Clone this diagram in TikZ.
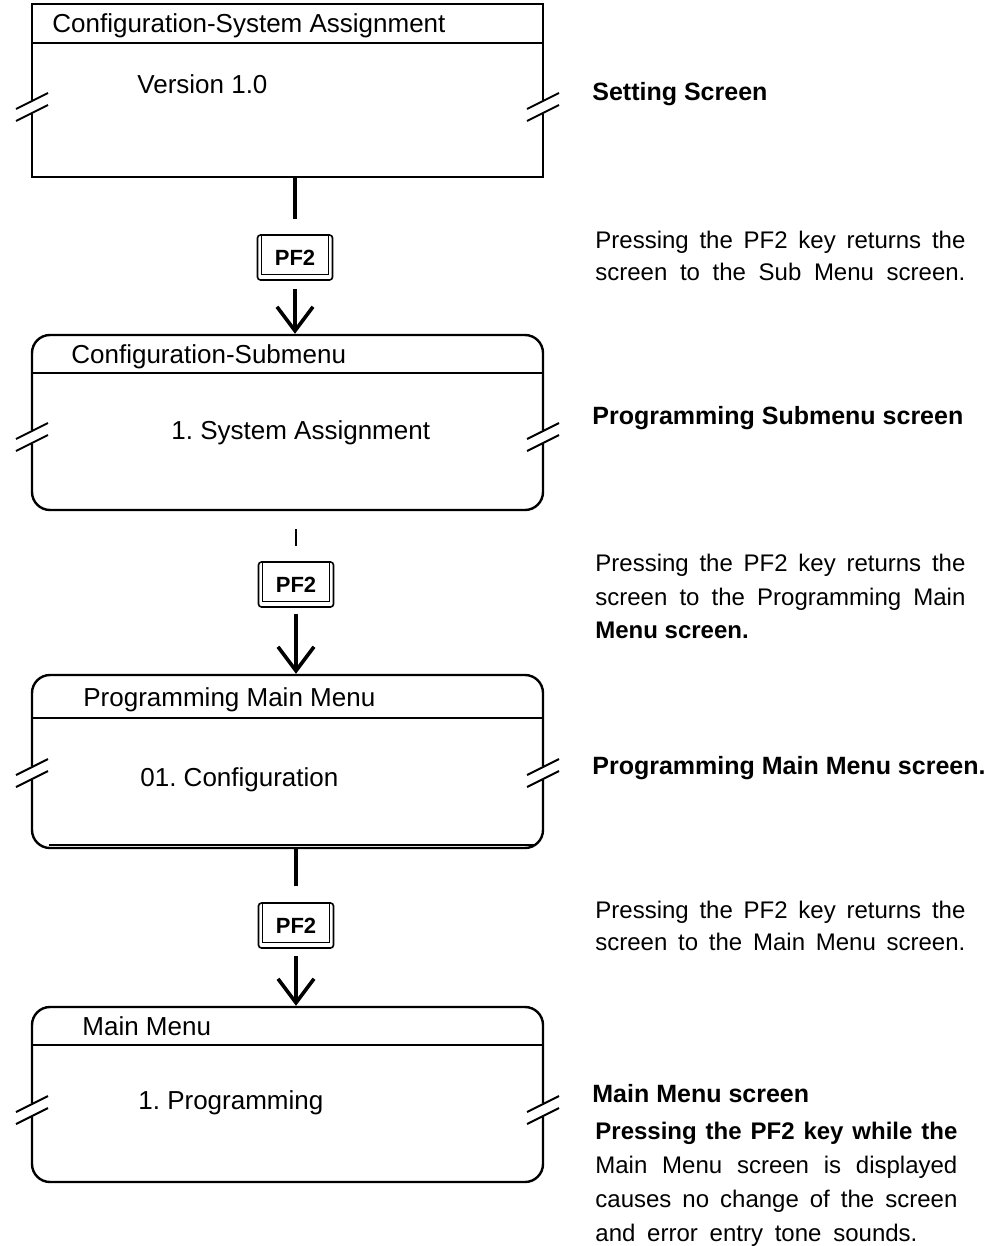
\documentclass[tikz,border=0pt]{standalone}
\usepackage{fontspec}
\setmainfont{Liberation Sans}
\usepackage{tikz}
\usetikzlibrary{arrows.meta}
\frenchspacing
\tikzstyle{screenbox}   = [rectangle, draw=black, line width=1.2pt, minimum width=255.5pt, inner sep=0pt]
\tikzstyle{roundscreen} = [screenbox, rounded corners=9pt]
\tikzstyle{pfkey}       = [rectangle, draw=black, line width=0.8pt, rounded corners=1.5pt, minimum width=37.5pt, minimum height=22.5pt, inner sep=0pt, font=\fontsize{11}{13}\selectfont\bfseries]
\tikzstyle{scrtitle}    = [anchor=base west, inner sep=0pt, font=\fontsize{13}{15}\selectfont]
\tikzstyle{scritem}     = [scrtitle]
\tikzstyle{heading}     = [anchor=base west, inner sep=0pt, font=\fontsize{12.5}{15}\selectfont\bfseries]
\tikzstyle{remark}      = [anchor=base west, inner sep=0pt, text width=185pt, align=justify, font=\fontsize{12}{16}\selectfont]
\tikzstyle{conn}        = [line width=1.8pt]
\tikzstyle{thinconn}    = [line width=1pt]
\tikzstyle{arrow}       = [line width=1.8pt, -{Straight Barb[length=12pt, width=18pt]}]
\tikzstyle{titlerule}   = [line width=1.2pt]
\tikzstyle{brk}         = [line width=1pt]

% gap with two slanted strokes in a screen edge
\newcommand{\scrbreak}[2]{%
    \fill[white] (#1-5,#2-7) rectangle (#1+5,#2+7);
    \draw[brk] (#1-16,#2+2)  -- (#1+16,#2-14);
    \draw[brk] (#1-16,#2+14) -- (#1+16,#2-2);
}

\begin{document}
\begin{tikzpicture}[x=0.5pt, y=-0.5pt]
    \useasboundingbox (0,0) rectangle (999,1246);

    \node (s1) at (287.5,  90.5) [screenbox,   minimum height=86.5pt] {};
    \node (s2) at (287.5, 422.5) [roundscreen, minimum height=87.5pt] {};
    \node (s3) at (287.5, 761.5) [roundscreen, minimum height=86.5pt] {};
    \node (s4) at (287.5,1094.5) [roundscreen, minimum height=87.5pt] {};

    \foreach \s/\y in {s1/43, s2/373, s3/718, s4/1045}
        \draw [titlerule] (\s.west |- 0,\y) -- (\s.east |- 0,\y);
    \draw [titlerule] ([xshift=9pt,yshift=2pt]s3.south west) -- ([xshift=-5pt,yshift=2pt]s3.south east);

    \foreach \y in {107, 437, 773, 1110} {
        \scrbreak{32}{\y}
        \scrbreak{543}{\y}
    }

    \node (t1) at ( 52,  33) [scrtitle] {Configuration-System Assignment};
    \node (c1) at (137,  94) [scritem]  {Version 1.0};
    \node (t2) at ( 71, 363) [scrtitle] {Configuration-Submenu};
    \node (c2) at (171, 439) [scritem]  {1. System Assignment};
    \node (t3) at ( 83, 706) [scrtitle] {Programming Main Menu};
    \node (c3) at (140, 786) [scritem]  {01. Configuration};
    \node (t4) at ( 82,1035) [scrtitle] {Main Menu};
    \node (c4) at (138,1109) [scritem]  {1. Programming};

    \node (k1) at (295, 257.5) [pfkey] {PF2};
    \node (k2) at (296, 584.5) [pfkey] {PF2};
    \node (k3) at (296, 925.5) [pfkey] {PF2};
    \foreach \k in {k1, k2, k3}
        \draw [line width=0.6pt] ([xshift=2.5pt]\k.north west) -- ([xshift=2.5pt,yshift=3pt]\k.south west)
            -- ([xshift=-2.5pt,yshift=3pt]\k.south east) -- ([xshift=-2.5pt]\k.north east);

    \draw [conn, shorten >=7.5pt] (s1.south -| k1) -- (k1.north);
    \draw [arrow, shorten <=4pt] (k1.south) -- (k1.south |- s2.north);
    \draw [thinconn, shorten <=9pt, shorten >=7.5pt] (s2.south -| k2) -- (k2.north);
    \draw [arrow, shorten <=3pt] (k2.south) -- (k2.south |- s3.north);
    \draw [conn, shorten >=8pt] (s3.south -| k3) -- (k3.north);
    \draw [arrow, shorten <=3.5pt] (k3.south) -- (k3.south |- s4.north);

    \node (h1) at (592, 101)   [heading] {Setting Screen};
    \node (p1) at (595, 248.5) [remark]  {{\parfillskip=0pt Pressing the PF2 key returns the\linebreak screen to the Sub Menu screen.\par}};
    \node (h2) at (592, 424)   [heading] {Programming Submenu screen};
    \node (p2) at (595, 571.5) [remark, font=\fontsize{12}{16.75}\selectfont]
        {Pressing the PF2 key returns the\linebreak screen to the Programming Main\linebreak \textbf{Menu screen.}};
    \node (h3) at (592, 774)   [heading] {Programming Main Menu screen.};
    \node (p3) at (595, 918.5) [remark]  {{\parfillskip=0pt Pressing the PF2 key returns the\linebreak screen to the Main Menu screen.\par}};
    \node (h4) at (592,1102)   [heading] {Main Menu screen};
    \node (p4) at (595,1139)   [remark, text width=181pt, font=\fontsize{12}{17}\selectfont]
        {{\parfillskip=20pt \textbf{Pressing the PF2 key while the}\linebreak Main Menu screen is displayed\linebreak causes no change of the screen\linebreak and error entry tone sounds.\par}};
\end{tikzpicture}
\end{document}
